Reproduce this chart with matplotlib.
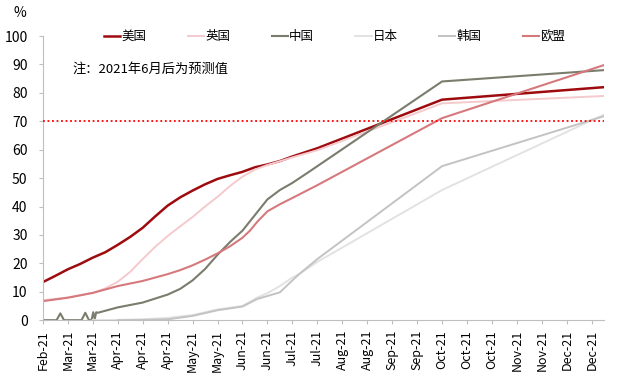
import matplotlib
matplotlib.use('Agg')
import matplotlib.pyplot as plt

plt.rcParams['font.family'] = ['Noto Sans CJK SC', 'DejaVu Sans']

# x tick labels (one every ~half month)
tick_labels = ['Feb-21', 'Mar-21', 'Mar-21', 'Apr-21', 'Apr-21', 'Apr-21', 'May-21',
               'May-21', 'Jun-21', 'Jun-21', 'Jul-21', 'Jul-21', 'Aug-21', 'Aug-21',
               'Sep-21', 'Sep-21', 'Oct-21', 'Oct-21', 'Oct-21', 'Nov-21', 'Nov-21',
               'Dec-21', 'Dec-21']

# vaccination rate (%), x in tick steps from Feb-21
us_x = [0, 0.5, 1, 1.5, 2, 2.5, 3, 3.5, 4, 4.5, 5, 5.5, 6, 6.5, 7, 7.5, 8, 8.5, 9, 9.5, 10, 11, 16, 22.5]
us_y = [13.4, 15.6, 17.9, 19.8, 22, 23.9, 26.5, 29.3, 32.5, 36.5, 40.3, 43.2, 45.6, 47.8, 49.7, 51.0, 52.2, 53.8, 54.8, 56.0, 57.6, 60.5, 77.6, 82.0]

uk_x = [0, 1, 2, 2.5, 3, 3.5, 4, 4.5, 5, 5.5, 6, 6.5, 7, 7.5, 8, 8.5, 9, 10, 11, 16, 22.5]
uk_y = [7.0, 8.0, 9.6, 11.2, 13.5, 17.0, 21.5, 25.8, 29.6, 33.0, 36.3, 40.0, 43.4, 47.2, 50.5, 53.0, 54.6, 57.3, 59.8, 76.3, 78.9]

cn_x = [0, 0.55, 0.7, 0.85, 1.55, 1.7, 1.85, 1.95, 2.02, 2.08, 2.14, 2.2, 3, 4, 5, 5.5, 6, 6.5, 7, 7.5, 8, 8.5, 9, 9.5, 10, 10.7, 16, 22.5]
cn_y = [0, 0, 2.4, 0, 0, 2.6, 0, 0, 2.8, 0.5, 2.8, 2.6, 4.5, 6.2, 9.0, 11.0, 14.0, 18.0, 23.0, 27.5, 31.5, 37.0, 42.5, 45.8, 48.3, 52.4, 84.0, 88.0]

jp_x = [2, 3, 4, 5, 6, 7, 8, 8.6, 9, 9.5, 10, 10.3, 11, 16, 22.5]
jp_y = [0, 0.1, 0.3, 0.8, 1.8, 3.8, 5.0, 8.0, 9.5, 12.0, 15.0, 16.4, 20.5, 45.8, 72.4]

kr_x = [3, 4, 5, 6, 7, 8, 8.6, 9, 9.5, 10, 10.3, 11, 16, 22.5]
kr_y = [0, 0.1, 0.3, 1.5, 3.5, 4.8, 7.5, 8.5, 9.8, 14.0, 16.4, 21.5, 54.2, 71.8]

eu_x = [0, 1, 2, 3, 4, 5, 5.5, 6, 6.5, 7, 7.5, 8, 8.3, 8.6, 9, 9.5, 10, 11, 16, 22.5]
eu_y = [6.7, 7.9, 9.6, 12.0, 13.8, 16.2, 17.6, 19.3, 21.3, 23.5, 26.0, 29.0, 31.5, 34.7, 38.3, 40.8, 43.0, 47.5, 71.1, 89.8]

target = 70

fig = plt.figure(figsize=(6.21, 3.83), dpi=100)
ax = fig.add_axes([0.069, 0.164, 0.904, 0.742])

ax.plot(us_x, us_y, color='#9E0B0F', lw=1.8, label='美国')
ax.plot(uk_x, uk_y, color='#F4CACD', lw=1.4, label='英国')
ax.plot(cn_x, cn_y, color='#7A7C6C', lw=1.5, label='中国')
ax.plot(jp_x, jp_y, color='#E2E2E2', lw=1.4, label='日本')
ax.plot(kr_x, kr_y, color='#C3C3C3', lw=1.4, label='韩国')
ax.plot(eu_x, eu_y, color='#D6797D', lw=1.5, label='欧盟')
ax.axhline(target, color='#FF0000', lw=1.3, ls=(0, (1, 1.5)), zorder=5)

ax.set_xlim(0, 22.5)
ax.set_ylim(0, 100)
ax.set_yticks(range(0, 101, 10))
ax.set_xticks(range(len(tick_labels)))
ax.set_xticklabels(tick_labels, rotation=90, fontsize=9)
ax.tick_params(axis='y', labelsize=10, length=3, color='#BFBFBF', pad=8)
ax.tick_params(axis='x', length=3, color='#BFBFBF', pad=4)

for s in ['top', 'right']:
    ax.spines[s].set_visible(False)
for s in ['left', 'bottom']:
    ax.spines[s].set_color('#BFBFBF')

ax.legend(loc='upper center', bbox_to_anchor=(0.52, 1.06), ncol=6, frameon=False,
          fontsize=9, handlelength=1.3, handletextpad=0.1, columnspacing=3.3)
ax.text(0.052, 0.87, '注：2021年6月后为预测值', transform=ax.transAxes, fontsize=9.5)
fig.text(0.022, 0.955, '%', fontsize=10)

fig.savefig('out.png', dpi=100)
